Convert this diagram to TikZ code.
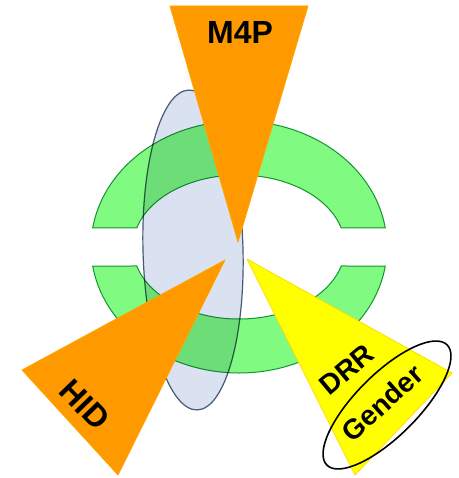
\documentclass[tikz,border=0pt]{standalone}
\usepackage{fontspec}
\setmainfont{Liberation Sans}
\usetikzlibrary{shapes.geometric}

\definecolor{ringgreen}{RGB}{128,250,128}
\definecolor{ringline}{RGB}{30,150,70}
\definecolor{ovalfill}{RGB}{218,226,241}
\definecolor{ovalline}{RGB}{70,90,120}
\definecolor{wedgeorange}{RGB}{255,153,0}
\definecolor{wedgeyellow}{RGB}{255,255,0}
\newcommand{\lblfont}[1]{\fontsize{#1}{#1}\selectfont\bfseries}

\begin{document}
\begin{tikzpicture}[x=1pt, y=1pt, line width=0.8pt,
  ringpart/.style={fill=ringgreen, draw=ringline, line width=1pt},
  wedge/.style={line width=0.8pt, line join=round},
  biglbl/.style={font=\lblfont{32}, inner sep=0pt},
  smalllbl/.style={font=\lblfont{28}, inner sep=0pt}]
  \useasboundingbox (0,0) rectangle (458,478);

  % blue oval behind the ring
  \node[ellipse, fill=ovalfill, draw=ovalline, line width=1.2pt,
        minimum width=100pt, minimum height=320pt, rotate=1.5] (oval) at (193,228) {};

  % green ring, cut on both sides
  \coordinate (c) at (239,231);
  \begin{scope}[blend mode=multiply]
    \draw[ringpart] ([shift={(8.7:148pt and 126pt)}]c)
      arc[start angle=8.7, end angle=171.3, x radius=148pt, y radius=126pt]
      -- ([shift={(164.7:106pt and 72pt)}]c)
      arc[start angle=164.7, end angle=15.3, x radius=106pt, y radius=72pt] -- cycle;
    \draw[ringpart] ([shift={(-8.7:148pt and 126pt)}]c)
      arc[start angle=-8.7, end angle=-171.3, x radius=148pt, y radius=126pt]
      -- ([shift={(-164.7:106pt and 72pt)}]c)
      arc[start angle=-164.7, end angle=-15.3, x radius=106pt, y radius=72pt] -- cycle;
  \end{scope}

  % wedges
  \coordinate (m4p-l) at (170,472);
  \coordinate (m4p-r) at (308,472);
  \coordinate (m4p-tip) at (238,236);
  \draw[wedge, fill=wedgeorange, draw=orange!70!yellow] (m4p-l) -- (m4p-r) -- (m4p-tip) -- cycle;

  \coordinate (hid-l) at (22,108);
  \coordinate (hid-b) at (118,3);
  \coordinate (hid-tip) at (225,218);
  \draw[wedge, fill=wedgeorange, draw=orange!70!yellow] (hid-l) -- (hid-b) -- (hid-tip) -- cycle;

  \coordinate (drr-b) at (355,3);
  \coordinate (drr-r) at (452,105);
  \coordinate (drr-tip) at (247,219);
  \draw[wedge, fill=wedgeyellow, draw=yellow!80!orange] (drr-tip) -- (drr-r) -- (drr-b) -- cycle;

  % labels
  \node[biglbl] (m4p) at (240,445) {M4P};
  \node[biglbl, rotate=-46] (hid) at (85,73) {HID};
  \node[smalllbl, rotate=40] (drr) at (347,108) {DRR};
  \node[smalllbl, rotate=42] (gender) at (382,75) {Gender};

  % mark round Gender
  \node[ellipse, draw=black, line width=1.6pt, minimum width=170pt,
        minimum height=62pt, rotate=45] (mark) at (387,73) {};
\end{tikzpicture}
\end{document}
